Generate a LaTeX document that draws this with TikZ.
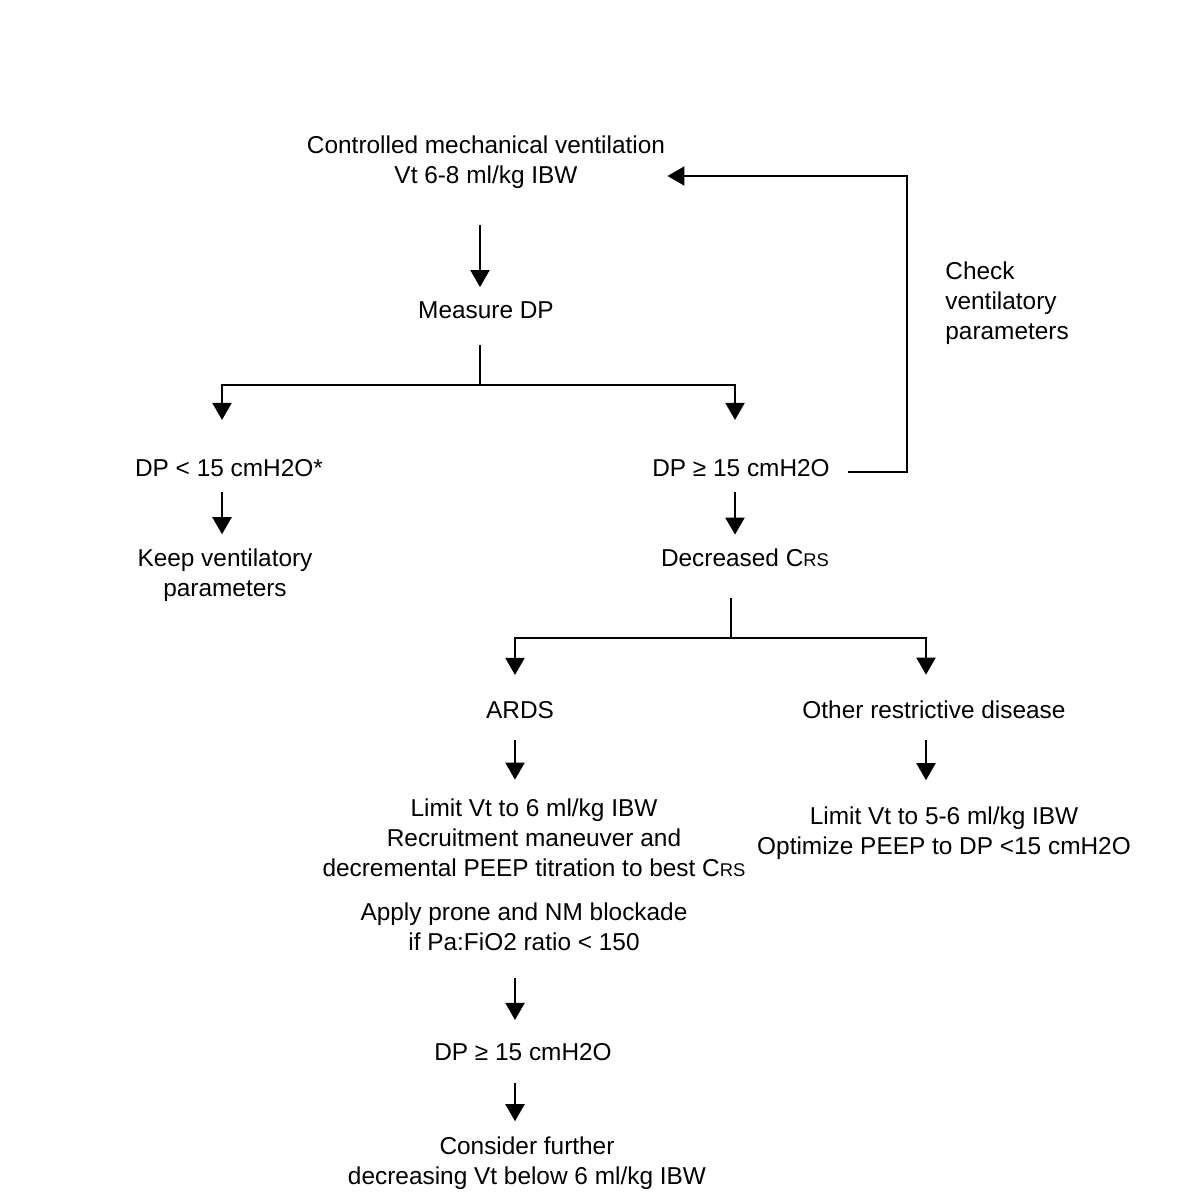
\documentclass[tikz,border=0pt]{standalone}
\usepackage{fontspec}
\setmainfont{Liberation Sans}
\usetikzlibrary{arrows.meta}
\newcommand{\crs}{C{\fontsize{9.2}{10}\selectfont RS}}
\begin{document}
\begin{tikzpicture}[
      x=0.5pt, y=-0.5pt,
      txt/.style={black, font=\fontsize{12.2}{15}\selectfont, align=center, inner sep=0pt},
      conn/.style={black, line width=1pt},
      flow/.style={conn, -{Triangle[width=9.5pt,length=8.5pt]}}]
    \useasboundingbox (0,0) rectangle (1200,1200);
    % axes of the arrows
    \coordinate (axL) at (222,0);
    \coordinate (axM) at (480,0);
    \coordinate (axR) at (735,0);
    \coordinate (axA) at (515,0);
    \coordinate (axO) at (926,0);
    \coordinate (fork1) at (480,385);
    \coordinate (fork2) at (731,638);
    \coordinate (loop) at (907,176);
    % nodes
    \node[txt] (cmv) at (486,162) {Controlled mechanical ventilation\\Vt 6-8 ml/kg IBW};
    \node[txt] (measure) at (486,310) {Measure DP};
    \node[txt] (dplow) at (229,468) {DP < 15 cmH2O*};
    \node[txt] (dphigh) at (741,468) {DP ≥ 15 cmH2O};
    \node[txt, align=left, anchor=west] (check) at (945,303) {Check\\ventilatory\\parameters};
    \node[txt] (keep) at (225,575) {Keep ventilatory\\parameters};
    \node[txt] (decr) at (745,558) {Decreased \crs};
    \node[txt] (ards) at (520,710) {ARDS};
    \node[txt] (other) at (934,710) {Other restrictive disease};
    \node[txt] (ardsact) at (534,838) {Limit Vt to 6 ml/kg IBW\\Recruitment maneuver and\\decremental PEEP titration to best \crs};
    \node[txt] (prone) at (524,927) {Apply prone and NM blockade\\ if Pa:FiO2 ratio < 150};
    \node[txt] (otheract) at (944,833) {Limit Vt to 5-6 ml/kg IBW\\Optimize PEEP to DP <15 cmH2O};
    \node[txt] (dp2) at (523,1052) {DP ≥ 15 cmH2O};
    \node[txt] (consider) at (527,1163) {Consider further\\decreasing Vt below 6 ml/kg IBW};
    % connectors
    \draw[flow] ([yshift=-18pt]cmv.south -| axM) -- ([yshift=7pt]measure.north -| axM);
    \draw[conn] ([yshift=-13pt]measure.south -| axM) -- (fork1);
    \draw[flow] (fork1) -| ([yshift=19.5pt]dplow.north -| axL);
    \draw[flow] (fork1) -| ([yshift=19.5pt]dphigh.north -| axR);
    \draw[flow] ([shift={(9pt,-2pt)}]dphigh.east) -| (loop) -- ([xshift=1pt]loop -| cmv.east);
    \draw[flow] ([yshift=-7.5pt]dplow.south -| axL) -- ([yshift=7pt]keep.north -| axL);
    \draw[flow] ([yshift=-7.5pt]dphigh.south -| axR) -- ([yshift=7pt]decr.north -| axR);
    \draw[conn] ([yshift=-15.5pt]decr.south -| fork2) -- (fork2);
    \draw[flow] (fork2) -| ([yshift=13pt]ards.north -| axA);
    \draw[flow] (fork2) -| ([yshift=13pt]other.north -| axO);
    \draw[flow] ([yshift=-10.5pt]ards.south -| axA) -- ([yshift=9.5pt]ardsact.north -| axA);
    \draw[flow] ([yshift=-10.5pt]other.south -| axO) -- ([yshift=13pt]otheract.north -| axO);
    \draw[flow] ([yshift=-13.5pt]prone.south -| axA) -- ([yshift=11.5pt]dp2.north -| axA);
    \draw[flow] ([yshift=-11pt]dp2.south -| axA) -- ([yshift=7.5pt]consider.north -| axA);
\end{tikzpicture}
\end{document}
